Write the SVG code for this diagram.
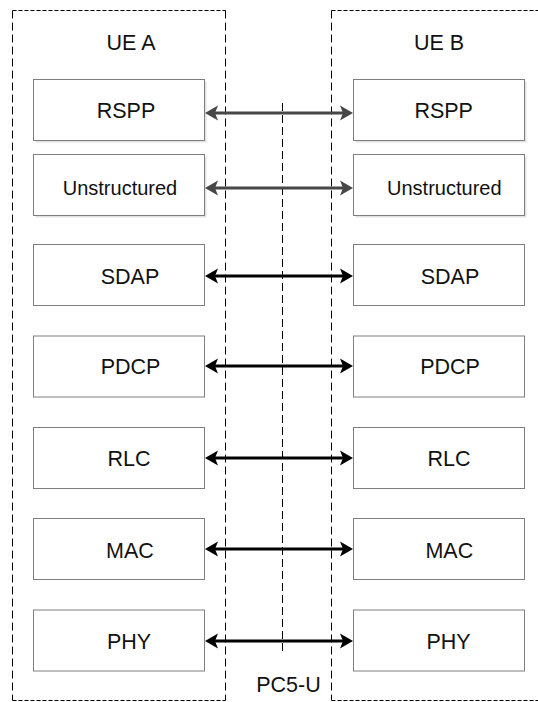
<svg xmlns="http://www.w3.org/2000/svg" width="538" height="702" viewBox="0 0 538 702">
<defs>
<style>
.h{stroke:#000;stroke-width:1;stroke-dasharray:4 2;fill:none}
.v{stroke:#000;stroke-width:1;stroke-dasharray:8 4;fill:none}
.box{fill:#fff;stroke:#7f7f7f;stroke-width:1}
.sh{fill:#e2e2e2}
text{font-family:"Liberation Sans",Arial,sans-serif;font-size:21.5px;fill:#111;text-anchor:middle}
.k{stroke:#000;stroke-width:3;fill:none}
.g{stroke:#474747;stroke-width:3;fill:none}
</style>
<marker id="ak" markerUnits="userSpaceOnUse" markerWidth="16" markerHeight="16" viewBox="0 -8 16 16" refX="3" refY="0" orient="auto-start-reverse">
<path d="M0,-7.5 L13,0 L0,7.5 L3,0 Z" fill="#000"/>
</marker>
<marker id="ag" markerUnits="userSpaceOnUse" markerWidth="16" markerHeight="16" viewBox="0 -8 16 16" refX="3" refY="0" orient="auto-start-reverse">
<path d="M0,-7.5 L13,0 L0,7.5 L3,0 Z" fill="#474747"/>
</marker>
</defs>
<rect width="538" height="702" fill="#fff"/>

<g id="ueA-frame">
<path class="h" d="M12.5,10.5 H225.5 M12.5,700.5 H225.5"/>
<path class="v" d="M12.5,10.5 V700.5 M225.5,10.5 V700.5"/>
<text x="131" y="50">UE A</text>
</g>
<g id="ueB-frame">
<path class="h" d="M331.5,10.5 H540 M331.5,700.5 H540"/>
<path class="v" d="M331.5,10.5 V700.5"/>
<text x="439" y="49.5">UE B</text>
</g>
<g id="pc5u">
<path class="v" d="M282.5,103 V655"/>
<text x="288.5" y="692">PC5-U</text>
</g>

<g id="a-rspp"><rect class="sh" x="35.5" y="81.5" width="171" height="61"/><rect class="box" x="33.5" y="79.5" width="171" height="61"/><text x="126" y="117.5">RSPP</text></g>
<g id="a-unstructured"><rect class="sh" x="35.5" y="156.5" width="171" height="61"/><rect class="box" x="33.5" y="154.5" width="171" height="61"/><text x="120" y="195" style="font-size:20px">Unstructured</text></g>
<g id="a-sdap"><rect class="box" x="33.5" y="244.5" width="171" height="61"/><text x="130" y="284">SDAP</text></g>
<g id="a-pdcp"><rect class="box" x="33.5" y="336" width="171" height="61"/><text x="130.5" y="374">PDCP</text></g>
<g id="a-rlc"><rect class="box" x="33.5" y="427.5" width="171" height="61"/><text x="129" y="466">RLC</text></g>
<g id="a-mac"><rect class="box" x="33.5" y="518.5" width="171" height="61"/><text x="130" y="558">MAC</text></g>
<g id="a-phy"><rect class="box" x="33.5" y="610" width="171" height="61"/><text x="129" y="649">PHY</text></g>

<g id="b-rspp"><rect class="sh" x="355.5" y="81.5" width="171" height="61"/><rect class="box" x="353.5" y="79.5" width="171" height="61"/><text x="443.7" y="117.5">RSPP</text></g>
<g id="b-unstructured"><rect class="sh" x="355.5" y="156.5" width="171" height="61"/><rect class="box" x="353.5" y="154.5" width="171" height="61"/><text x="444.3" y="195" style="font-size:20px">Unstructured</text></g>
<g id="b-sdap"><rect class="box" x="353.5" y="244.5" width="171" height="61"/><text x="450" y="284">SDAP</text></g>
<g id="b-pdcp"><rect class="box" x="353.5" y="336" width="171" height="61"/><text x="450" y="374">PDCP</text></g>
<g id="b-rlc"><rect class="box" x="353.5" y="427.5" width="171" height="61"/><text x="449" y="466">RLC</text></g>
<g id="b-mac"><rect class="box" x="353.5" y="518.5" width="171" height="61"/><text x="449.3" y="558">MAC</text></g>
<g id="b-phy"><rect class="box" x="353.5" y="610" width="171" height="61"/><text x="448.5" y="649">PHY</text></g>

<g id="connectors">
<path class="g" d="M215,113 H343" marker-start="url(#ag)" marker-end="url(#ag)"/>
<path class="g" d="M215,188 H343" marker-start="url(#ag)" marker-end="url(#ag)"/>
<path class="k" d="M215,276 H343" marker-start="url(#ak)" marker-end="url(#ak)"/>
<path class="k" d="M215,366 H343" marker-start="url(#ak)" marker-end="url(#ak)"/>
<path class="k" d="M215,458 H343" marker-start="url(#ak)" marker-end="url(#ak)"/>
<path class="k" d="M215,549 H343" marker-start="url(#ak)" marker-end="url(#ak)"/>
<path class="k" d="M215,641 H343" marker-start="url(#ak)" marker-end="url(#ak)"/>
</g>
</svg>
